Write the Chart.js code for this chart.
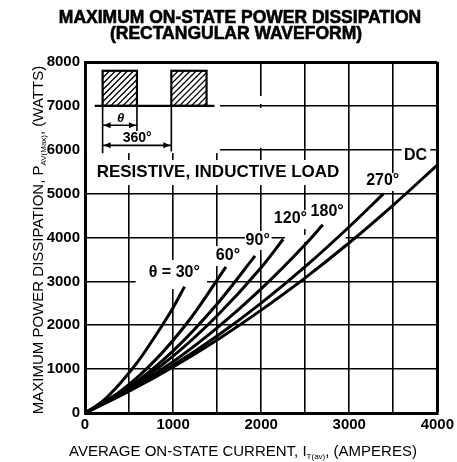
<!DOCTYPE html>
<html><head><meta charset="utf-8">
<script src="https://cdn.jsdelivr.net/npm/chart.js@4"></script>
<style>html,body{margin:0;padding:0;background:#fff}#wrap{width:457px;height:462px;position:relative}</style>
</head><body><div id="wrap"><canvas id="c" width="457" height="462"></canvas></div>
<script>
const FONT = '"Liberation Sans", Arial, Helvetica, sans-serif';

// ---- data ----
const xLabelledTicks = [0, 1000, 2000, 3000, 4000];
const yTickValues = [0, 1000, 2000, 3000, 4000, 5000, 6000, 7000, 8000];
const curveNames = ['θ = 30°', '60°', '90°', '120°', '180°', '270°', 'DC'];
const cur30  = [0, 200, 400, 600, 800, 1000, 1130];
const pow30  = [0, 270, 680, 1170, 1760, 2400, 2880];
const cur60  = [0, 400, 800, 1200, 1600];
const pow60  = [0, 490, 1210, 2160, 3330];
const cur90  = [0, 500, 1000, 1500, 1930];
const pow90  = [0, 585, 1415, 2485, 3580];
const cur120 = [0, 500, 1000, 1500, 2000, 2250];
const pow120 = [0, 555, 1295, 2215, 3315, 3960];
const cur180 = [0, 500, 1000, 1500, 2000, 2500, 2700];
const pow180 = [0, 525, 1170, 1940, 2830, 3840, 4290];
const cur270 = [0, 500, 1000, 1500, 2000, 2500, 3000, 3390];
const pow270 = [0, 505, 1090, 1755, 2505, 3335, 4245, 5000];
const curDC  = [0, 500, 1000, 1500, 2000, 2500, 3000, 3500, 4000];
const powDC  = [0, 495, 1050, 1665, 2345, 3080, 3880, 4740, 5650];

const series = [
  [cur30, pow30], [cur60, pow60], [cur90, pow90], [cur120, pow120],
  [cur180, pow180], [cur270, pow270], [curDC, powDC]
];

// label anchor positions (data units)
const labelPos = [[1014, 3191], [1623, 3578], [1961, 3920], [2332, 4422], [2749, 4581], [3380, 5288], [3752, 5858]];
const loadText = 'RESISTIVE, INDUCTIVE LOAD';
const loadPos = [1510, 5493];

// white masks over the grid (data units: x1, x2, y1, y2)
const masks = [
  [22, 1532, 5926, 7954],
  [68, 2952, 5197, 5766],
  [575, 1386, 2826, 3487],
  [1476, 1769, 3350, 3806],
  [1814, 2118, 3715, 4148],
  [2141, 2546, 4194, 4627],
  [2270, 2960, 3900, 4060],
  [2546, 2952, 4376, 4786],
  [3177, 3583, 5060, 5470],
  [3594, 3921, 5675, 6063],
  [1960, 2040, 7045, 7225],
  [1960, 2040, 6045, 6955]
];

const datasets = series.map((s, i) => ({
  label: curveNames[i],
  data: s[0].map((x, j) => ({x: x, y: s[1][j]})),
  showLine: true,
  borderColor: '#000',
  backgroundColor: '#000',
  borderWidth: 3,
  pointRadius: 0,
  cubicInterpolationMode: 'monotone',
  fill: false
}));

function drawMixed(ctx, parts, cx, cy, rot) {
  ctx.save();
  ctx.translate(cx, cy);
  ctx.rotate(rot);
  let total = 0;
  parts.forEach(p => { ctx.font = p.f; p.w = ctx.measureText(p.t).width; total += p.w; });
  let x = -total / 2;
  ctx.textAlign = 'left';
  ctx.textBaseline = 'alphabetic';
  ctx.fillStyle = '#000';
  parts.forEach(p => { ctx.font = p.f; ctx.fillText(p.t, x, p.dy || 0); x += p.w; });
  ctx.restore();
}

function arrowHead(ctx, x, y, dir) {
  ctx.beginPath();
  ctx.moveTo(x, y);
  ctx.lineTo(x - dir * 7, y - 3);
  ctx.lineTo(x - dir * 7, y + 3);
  ctx.closePath();
  ctx.fill();
}

const decor = {
  id: 'decor',
  beforeDatasetsDraw(chart) {
    const ctx = chart.ctx, xs = chart.scales.x, ys = chart.scales.y;
    const X = v => xs.getPixelForValue(v), Y = v => ys.getPixelForValue(v);
    ctx.save();
    ctx.fillStyle = '#fff';
    masks.forEach(m => {
      const x1 = X(m[0]), x2 = X(m[1]), y1 = Y(m[3]), y2 = Y(m[2]);
      ctx.fillRect(x1, y1, x2 - x1, y2 - y1);
    });
    // inset waveform
    ctx.strokeStyle = '#000';
    ctx.fillStyle = '#000';
    const base = Y(7000), top = Y(7800);
    [[200, 590], [980, 1380]].forEach(r => {
      const a = X(r[0]), b = X(r[1]);
      ctx.save();
      ctx.beginPath(); ctx.rect(a, top, b - a, base - top); ctx.clip();
      ctx.lineWidth = 1.3;
      for (let k = -40; k < 60; k += 6) {
        ctx.beginPath();
        ctx.moveTo(a + k, base);
        ctx.lineTo(a + k + (base - top), top);
        ctx.stroke();
      }
      ctx.restore();
      ctx.lineWidth = 2.2;
      ctx.strokeRect(a, top, b - a, base - top);
    });
    ctx.lineWidth = 2.2;
    ctx.beginPath(); ctx.moveTo(X(110), base); ctx.lineTo(X(1470), base); ctx.stroke();
    ctx.lineWidth = 1.6;
    ctx.beginPath();
    ctx.moveTo(X(200), base); ctx.lineTo(X(200), Y(5920));
    ctx.moveTo(X(590), base); ctx.lineTo(X(590), Y(6430));
    ctx.moveTo(X(980), base); ctx.lineTo(X(980), Y(5960));
    ctx.stroke();
    const ya = Y(6560), yb = Y(6100);
    ctx.beginPath();
    ctx.moveTo(X(200), ya); ctx.lineTo(X(590), ya);
    ctx.moveTo(X(200), yb); ctx.lineTo(X(980), yb);
    ctx.stroke();
    arrowHead(ctx, X(200) + 1, ya, -1);
    arrowHead(ctx, X(590) - 1, ya, 1);
    arrowHead(ctx, X(200) + 1, yb, -1);
    arrowHead(ctx, X(980) - 1, yb, 1);
    ctx.textAlign = 'center';
    ctx.textBaseline = 'middle';
    ctx.font = 'italic bold 13px ' + FONT;
    ctx.fillText('θ', X(405), Y(6724));
    ctx.font = 'bold 14px ' + FONT;
    ctx.fillText('360°', X(592), Y(6268));
    // labels
    ctx.font = 'bold 17px ' + FONT;
    ctx.fillText(loadText, X(loadPos[0]), Y(loadPos[1]));
    ctx.font = 'bold 16px ' + FONT;
    curveNames.forEach((n, i) => ctx.fillText(n, X(labelPos[i][0]), Y(labelPos[i][1])));
    ctx.restore();
  },
  afterDraw(chart) {
    const ctx = chart.ctx;
    ctx.save();
    ctx.fillStyle = '#000';
    ctx.strokeStyle = '#000';
    ctx.lineWidth = 0.6;
    ctx.textAlign = 'center';
    ctx.textBaseline = 'alphabetic';
    ctx.font = 'bold 17.5px ' + FONT;
    ctx.fillText('MAXIMUM ON-STATE POWER DISSIPATION', 240, 23);
    ctx.strokeText('MAXIMUM ON-STATE POWER DISSIPATION', 240, 23);
    ctx.fillText('(RECTANGULAR WAVEFORM)', 236, 39);
    ctx.strokeText('(RECTANGULAR WAVEFORM)', 236, 39);
    ctx.restore();
    const f = '15px ' + FONT, fs = '8px ' + FONT;
    drawMixed(ctx, [
      {t: 'AVERAGE ON-STATE CURRENT, I', f: f},
      {t: 'T(av)', f: fs, dy: 3},
      {t: ', (AMPERES)', f: f}
    ], 243, 456, 0);
    drawMixed(ctx, [
      {t: 'MAXIMUM POWER DISSIPATION, P', f: f},
      {t: 'AV(Max)', f: fs, dy: 3},
      {t: ', (WATTS)', f: f}
    ], 43, 240, -Math.PI / 2);
  }
};

new Chart(document.getElementById('c'), {
  type: 'scatter',
  data: {datasets: datasets},
  plugins: [decor],
  options: {
    responsive: false,
    animation: false,
    devicePixelRatio: 1,
    layout: {padding: {left: 0, right: 17, top: 62, bottom: 0}},
    plugins: {legend: {display: false}, tooltip: {enabled: false}, title: {display: false}},
    scales: {
      x: {
        type: 'linear', min: 0, max: 4000,
        afterFit: s => { s.height = 49; },
        ticks: {
          stepSize: 500, autoSkip: false, maxRotation: 0, padding: 3,
          color: '#000', font: {family: FONT, size: 15, weight: 'bold'},
          callback: v => xLabelledTicks.includes(v) ? String(v) : ''
        },
        grid: {color: '#000', drawTicks: false, lineWidth: c => (c.tick && c.tick.value === 4000) ? 3 : 1.6},
        border: {display: true, color: '#000', width: 3}
      },
      y: {
        type: 'linear', min: 0, max: 8000,
        afterFit: s => { s.width = 85; },
        afterBuildTicks: s => { s.ticks = yTickValues.map(v => ({value: v})); },
        ticks: {
          padding: 5, color: '#000', font: {family: FONT, size: 15, weight: 'bold'},
          callback: v => String(v)
        },
        grid: {color: '#000', drawTicks: false, lineWidth: c => (c.tick && c.tick.value === 8000) ? 3 : 1.6},
        border: {display: true, color: '#000', width: 3}
      }
    }
  }
});
</script></body></html>
